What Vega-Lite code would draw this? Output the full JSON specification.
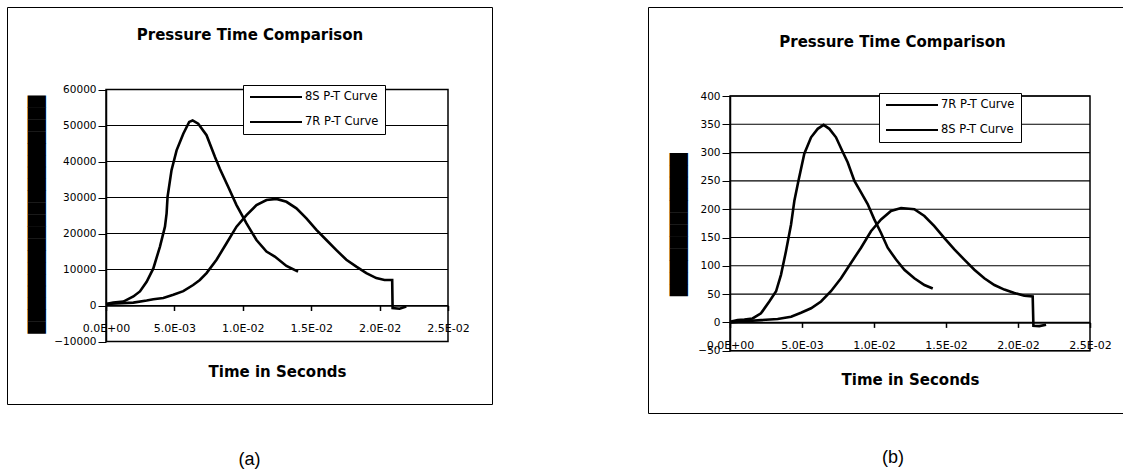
{
  "$schema": "https://vega.github.io/schema/vega-lite/v6.json",
  "padding": {"left": 6, "top": 6, "right": 5, "bottom": 5},
  "background": "white",
  "spacing": 154,
  "resolve": {"scale": {"color": "independent"}, "legend": {"color": "independent"}},
  "config": {
    "view": {"stroke": "black", "strokeWidth": 1},
    "font": "DejaVu Sans",
    "axis": {"labelFont": "DejaVu Sans", "titleFont": "DejaVu Sans", "domainColor": "black", "tickColor": "black", "labelColor": "black", "titleColor": "black", "grid": false, "minExtent": 0}
  },
  "datasets": {
    "a": [
      {"series": "8S P-T Curve", "t": 0, "p": 400},
      {"series": "8S P-T Curve", "t": 0.00053, "p": 800},
      {"series": "8S P-T Curve", "t": 0.00127, "p": 1100},
      {"series": "8S P-T Curve", "t": 0.002, "p": 2500},
      {"series": "8S P-T Curve", "t": 0.00248, "p": 3900},
      {"series": "8S P-T Curve", "t": 0.00297, "p": 6600},
      {"series": "8S P-T Curve", "t": 0.00346, "p": 10300},
      {"series": "8S P-T Curve", "t": 0.00394, "p": 16300},
      {"series": "8S P-T Curve", "t": 0.00431, "p": 21900},
      {"series": "8S P-T Curve", "t": 0.00443, "p": 25600},
      {"series": "8S P-T Curve", "t": 0.0045, "p": 30200},
      {"series": "8S P-T Curve", "t": 0.00479, "p": 37600},
      {"series": "8S P-T Curve", "t": 0.00516, "p": 43100},
      {"series": "8S P-T Curve", "t": 0.00565, "p": 47700},
      {"series": "8S P-T Curve", "t": 0.00608, "p": 51000},
      {"series": "8S P-T Curve", "t": 0.00633, "p": 51400},
      {"series": "8S P-T Curve", "t": 0.00674, "p": 50500},
      {"series": "8S P-T Curve", "t": 0.00735, "p": 47300},
      {"series": "8S P-T Curve", "t": 0.00796, "p": 41300},
      {"series": "8S P-T Curve", "t": 0.00832, "p": 38000},
      {"series": "8S P-T Curve", "t": 0.00893, "p": 33000},
      {"series": "8S P-T Curve", "t": 0.00954, "p": 27900},
      {"series": "8S P-T Curve", "t": 0.01027, "p": 22800},
      {"series": "8S P-T Curve", "t": 0.011, "p": 18200},
      {"series": "8S P-T Curve", "t": 0.01173, "p": 15000},
      {"series": "8S P-T Curve", "t": 0.01234, "p": 13600},
      {"series": "8S P-T Curve", "t": 0.01319, "p": 11000},
      {"series": "8S P-T Curve", "t": 0.01404, "p": 9400},
      {"series": "7R P-T Curve", "t": 0, "p": 400},
      {"series": "7R P-T Curve", "t": 0.002, "p": 800},
      {"series": "7R P-T Curve", "t": 0.00297, "p": 1400},
      {"series": "7R P-T Curve", "t": 0.00346, "p": 1750},
      {"series": "7R P-T Curve", "t": 0.00419, "p": 2100},
      {"series": "7R P-T Curve", "t": 0.00492, "p": 3000},
      {"series": "7R P-T Curve", "t": 0.00565, "p": 4000},
      {"series": "7R P-T Curve", "t": 0.00637, "p": 5700},
      {"series": "7R P-T Curve", "t": 0.00686, "p": 7100},
      {"series": "7R P-T Curve", "t": 0.00735, "p": 9000},
      {"series": "7R P-T Curve", "t": 0.00808, "p": 12700},
      {"series": "7R P-T Curve", "t": 0.00881, "p": 17300},
      {"series": "7R P-T Curve", "t": 0.00954, "p": 21900},
      {"series": "7R P-T Curve", "t": 0.01027, "p": 25100},
      {"series": "7R P-T Curve", "t": 0.011, "p": 27900},
      {"series": "7R P-T Curve", "t": 0.01173, "p": 29300},
      {"series": "7R P-T Curve", "t": 0.01246, "p": 29600},
      {"series": "7R P-T Curve", "t": 0.01319, "p": 28800},
      {"series": "7R P-T Curve", "t": 0.01392, "p": 27000},
      {"series": "7R P-T Curve", "t": 0.01465, "p": 24200},
      {"series": "7R P-T Curve", "t": 0.01538, "p": 21000},
      {"series": "7R P-T Curve", "t": 0.01611, "p": 18200},
      {"series": "7R P-T Curve", "t": 0.01684, "p": 15400},
      {"series": "7R P-T Curve", "t": 0.01757, "p": 12700},
      {"series": "7R P-T Curve", "t": 0.0183, "p": 10800},
      {"series": "7R P-T Curve", "t": 0.01903, "p": 9000},
      {"series": "7R P-T Curve", "t": 0.01976, "p": 7600},
      {"series": "7R P-T Curve", "t": 0.02036, "p": 7100},
      {"series": "7R P-T Curve", "t": 0.02092, "p": 7100},
      {"series": "7R P-T Curve", "t": 0.02095, "p": -700},
      {"series": "7R P-T Curve", "t": 0.02146, "p": -900},
      {"series": "7R P-T Curve", "t": 0.02195, "p": -300}
    ],
    "b": [
      {"series": "8S P-T Curve", "t": 0, "p": 1},
      {"series": "8S P-T Curve", "t": 0.00053, "p": 4},
      {"series": "8S P-T Curve", "t": 0.001, "p": 5},
      {"series": "8S P-T Curve", "t": 0.00157, "p": 7},
      {"series": "8S P-T Curve", "t": 0.00215, "p": 16},
      {"series": "8S P-T Curve", "t": 0.00273, "p": 37},
      {"series": "8S P-T Curve", "t": 0.0032, "p": 55},
      {"series": "8S P-T Curve", "t": 0.00354, "p": 84},
      {"series": "8S P-T Curve", "t": 0.00389, "p": 126},
      {"series": "8S P-T Curve", "t": 0.00424, "p": 173},
      {"series": "8S P-T Curve", "t": 0.00447, "p": 215},
      {"series": "8S P-T Curve", "t": 0.00475, "p": 250},
      {"series": "8S P-T Curve", "t": 0.00516, "p": 298},
      {"series": "8S P-T Curve", "t": 0.00563, "p": 327},
      {"series": "8S P-T Curve", "t": 0.00609, "p": 342},
      {"series": "8S P-T Curve", "t": 0.0065, "p": 349},
      {"series": "8S P-T Curve", "t": 0.0069, "p": 342},
      {"series": "8S P-T Curve", "t": 0.00736, "p": 327},
      {"series": "8S P-T Curve", "t": 0.00783, "p": 301},
      {"series": "8S P-T Curve", "t": 0.00817, "p": 283},
      {"series": "8S P-T Curve", "t": 0.00864, "p": 250},
      {"series": "8S P-T Curve", "t": 0.00898, "p": 235},
      {"series": "8S P-T Curve", "t": 0.00956, "p": 209},
      {"series": "8S P-T Curve", "t": 0.01002, "p": 182},
      {"series": "8S P-T Curve", "t": 0.01049, "p": 158},
      {"series": "8S P-T Curve", "t": 0.01095, "p": 132},
      {"series": "8S P-T Curve", "t": 0.01153, "p": 111},
      {"series": "8S P-T Curve", "t": 0.01211, "p": 93},
      {"series": "8S P-T Curve", "t": 0.0128, "p": 78},
      {"series": "8S P-T Curve", "t": 0.0135, "p": 66},
      {"series": "8S P-T Curve", "t": 0.01408, "p": 60},
      {"series": "7R P-T Curve", "t": 0, "p": 0},
      {"series": "7R P-T Curve", "t": 0.001, "p": 2},
      {"series": "7R P-T Curve", "t": 0.00215, "p": 4},
      {"series": "7R P-T Curve", "t": 0.00331, "p": 6},
      {"series": "7R P-T Curve", "t": 0.00424, "p": 10},
      {"series": "7R P-T Curve", "t": 0.00493, "p": 17},
      {"series": "7R P-T Curve", "t": 0.00563, "p": 25},
      {"series": "7R P-T Curve", "t": 0.00632, "p": 37},
      {"series": "7R P-T Curve", "t": 0.00701, "p": 55},
      {"series": "7R P-T Curve", "t": 0.00771, "p": 78},
      {"series": "7R P-T Curve", "t": 0.0084, "p": 105},
      {"series": "7R P-T Curve", "t": 0.0091, "p": 132},
      {"series": "7R P-T Curve", "t": 0.00979, "p": 161},
      {"series": "7R P-T Curve", "t": 0.01049, "p": 182},
      {"series": "7R P-T Curve", "t": 0.01118, "p": 197},
      {"series": "7R P-T Curve", "t": 0.01188, "p": 202},
      {"series": "7R P-T Curve", "t": 0.0128, "p": 200},
      {"series": "7R P-T Curve", "t": 0.0135, "p": 188},
      {"series": "7R P-T Curve", "t": 0.01419, "p": 170},
      {"series": "7R P-T Curve", "t": 0.01489, "p": 149},
      {"series": "7R P-T Curve", "t": 0.01558, "p": 129},
      {"series": "7R P-T Curve", "t": 0.01627, "p": 111},
      {"series": "7R P-T Curve", "t": 0.01697, "p": 93},
      {"series": "7R P-T Curve", "t": 0.01766, "p": 78},
      {"series": "7R P-T Curve", "t": 0.01836, "p": 66},
      {"series": "7R P-T Curve", "t": 0.01905, "p": 58},
      {"series": "7R P-T Curve", "t": 0.01975, "p": 52},
      {"series": "7R P-T Curve", "t": 0.02044, "p": 47},
      {"series": "7R P-T Curve", "t": 0.02102, "p": 46},
      {"series": "7R P-T Curve", "t": 0.02107, "p": -6},
      {"series": "7R P-T Curve", "t": 0.02148, "p": -6.5},
      {"series": "7R P-T Curve", "t": 0.02195, "p": -4}
    ],
    "gridA": [{"p": -10000}, {"p": 0}, {"p": 10000}, {"p": 20000}, {"p": 30000}, {"p": 40000}, {"p": 50000}, {"p": 60000}],
    "gridB": [{"p": -50}, {"p": 0}, {"p": 50}, {"p": 100}, {"p": 150}, {"p": 200}, {"p": 250}, {"p": 300}, {"p": 350}, {"p": 400}]
  },
  "hconcat": [
    {
      "width": 485,
      "height": 397,
      "title": {"text": "(a)", "orient": "bottom", "offset": 47, "fontSize": 18, "font": "Liberation Sans", "fontWeight": "normal", "anchor": "middle", "color": "black"},
      "resolve": {"axis": {"x": "independent", "y": "independent"}},
      "layer": [
        {
          "data": {"name": "gridA"},
          "mark": {"type": "rule", "color": "black", "strokeWidth": 1.1},
          "encoding": {
            "x": {"datum": 0, "type": "quantitative", "scale": {"domain": [0, 0.025], "range": [99, 441], "nice": false, "zero": false}, "axis": null},
            "x2": {"datum": 0.025},
            "y": {"field": "p", "type": "quantitative", "scale": {"domain": [-10000, 60000], "range": [334.5, 82.5], "nice": false, "zero": false}, "axis": null}
          }
        },
        {
          "data": {"values": [{}]},
          "mark": {"type": "rect", "fill": "transparent", "stroke": "black", "strokeWidth": 1.5},
          "encoding": {
            "x": {"datum": 0, "type": "quantitative", "axis": {"orient": "top", "domain": false, "ticks": false, "labels": false, "title": "Pressure Time Comparison", "titleX": 242.5, "titleY": 27, "titleAlign": "center", "titleBaseline": "middle", "titleFontSize": 15, "titleFontWeight": "bold", "offset": 0}},
            "x2": {"datum": 0.025},
            "y": {"datum": -10000, "type": "quantitative", "axis": null},
            "y2": {"datum": 60000}
          }
        },
        {
          "data": {"name": "a"},
          "mark": {"type": "line", "strokeWidth": 2.6},
          "encoding": {
            "x": {"field": "t", "type": "quantitative", "scale": {"domain": [0, 0.025], "range": [99, 441], "nice": false, "zero": false},
              "axis": {"orient": "bottom", "offset": -98.5, "values": [0, 0.005, 0.01, 0.015, 0.02, 0.025], "labelExpr": "replace(replace(upper(format(datum.value, '.1e')), 'E-', 'E-0'), 'E+', 'E+0')", "labelFontSize": 11, "labelFlush": false, "labelOverlap": false, "tickSize": 5, "tickWidth": 1.5, "domainWidth": 1.5, "labelPadding": 12, "title": "Time in Seconds", "titleFontSize": 15, "titleFontWeight": "bold", "titleY": 65.5, "titleBaseline": "middle"}},
            "y": {"field": "p", "type": "quantitative", "scale": {"domain": [-10000, 60000], "range": [334.5, 82.5], "nice": false, "zero": false},
              "axis": {"orient": "left", "offset": -99, "values": [-10000, 0, 10000, 20000, 30000, 40000, 50000, 60000], "format": "d", "labelFontSize": 10.5, "tickSize": 8, "tickWidth": 1, "domainWidth": 1.5, "labelPadding": 2, "title": "████████████████████", "titleFont": "DejaVu Sans", "titleFontSize": 15.48, "titleFontWeight": "normal", "titleX": -70, "titleY": 207, "titleAngle": 270, "titleAlign": "center", "titleBaseline": "middle", "titleLimit": 1000}},
            "color": {"field": "series", "type": "nominal", "scale": {"domain": ["8S P-T Curve", "7R P-T Curve"], "range": ["black", "black"]},
              "legend": {"orient": "none", "legendX": 236, "legendY": 78, "title": null, "symbolType": "M-1,0H9.4", "symbolSize": 100, "symbolStrokeWidth": 2, "symbolStrokeColor": "black", "labelFontSize": 11.5, "labelFont": "DejaVu Sans", "labelColor": "black", "strokeColor": "black", "fillColor": "white", "padding": 6, "rowPadding": 13, "labelOffset": 44}}
          }
        }
      ]
    },
    {
      "width": 490,
      "height": 406,
      "title": {"text": "(b)", "orient": "bottom", "offset": 36, "fontSize": 18, "font": "Liberation Sans", "fontWeight": "normal", "anchor": "middle", "color": "black"},
      "resolve": {"axis": {"x": "independent", "y": "independent"}},
      "layer": [
        {
          "data": {"name": "gridB"},
          "mark": {"type": "rule", "color": "black", "strokeWidth": 1.1},
          "encoding": {
            "x": {"datum": 0, "type": "quantitative", "scale": {"domain": [0, 0.025], "range": [82, 442], "nice": false, "zero": false}, "axis": null},
            "x2": {"datum": 0.025},
            "y": {"field": "p", "type": "quantitative", "scale": {"domain": [-50, 400], "range": [343.7, 89], "nice": false, "zero": false}, "axis": null}
          }
        },
        {
          "data": {"values": [{}]},
          "mark": {"type": "rect", "fill": "transparent", "stroke": "black", "strokeWidth": 1.5},
          "encoding": {
            "x": {"datum": 0, "type": "quantitative", "axis": {"orient": "top", "domain": false, "ticks": false, "labels": false, "title": "Pressure Time Comparison", "titleX": 244, "titleY": 34, "titleAlign": "center", "titleBaseline": "middle", "titleFontSize": 15, "titleFontWeight": "bold", "offset": 0}},
            "x2": {"datum": 0.025},
            "y": {"datum": -50, "type": "quantitative", "axis": null},
            "y2": {"datum": 400}
          }
        },
        {
          "data": {"name": "b"},
          "mark": {"type": "line", "strokeWidth": 2.6},
          "encoding": {
            "x": {"field": "t", "type": "quantitative", "scale": {"domain": [0, 0.025], "range": [82, 442], "nice": false, "zero": false},
              "axis": {"orient": "bottom", "offset": -90.6, "values": [0, 0.005, 0.01, 0.015, 0.02, 0.025], "labelExpr": "replace(replace(upper(format(datum.value, '.1e')), 'E-', 'E-0'), 'E+', 'E+0')", "labelFontSize": 11, "labelFlush": false, "labelOverlap": false, "tickSize": 5, "tickWidth": 1.5, "domainWidth": 1.5, "labelPadding": 12.5, "title": "Time in Seconds", "titleFontSize": 15, "titleFontWeight": "bold", "titleY": 56.6, "titleBaseline": "middle"}},
            "y": {"field": "p", "type": "quantitative", "scale": {"domain": [-50, 400], "range": [343.7, 89], "nice": false, "zero": false},
              "axis": {"orient": "left", "offset": -82, "values": [-50, 0, 50, 100, 150, 200, 250, 300, 350, 400], "format": "d", "labelFontSize": 10.5, "tickSize": 8, "tickWidth": 1, "domainWidth": 1.5, "labelPadding": 2, "title": "████████████", "titleFont": "DejaVu Sans", "titleFontSize": 15.48, "titleFontWeight": "normal", "titleX": -51.5, "titleY": 217, "titleAngle": 270, "titleAlign": "center", "titleBaseline": "middle", "titleLimit": 1000}},
            "color": {"field": "series", "type": "nominal", "scale": {"domain": ["7R P-T Curve", "8S P-T Curve"], "range": ["black", "black"]},
              "legend": {"orient": "none", "legendX": 231, "legendY": 86, "title": null, "symbolType": "M-1,0H9.4", "symbolSize": 100, "symbolStrokeWidth": 2, "symbolStrokeColor": "black", "labelFontSize": 11.5, "labelFont": "DejaVu Sans", "labelColor": "black", "strokeColor": "black", "fillColor": "white", "padding": 6, "rowPadding": 13, "labelOffset": 44}}
          }
        }
      ]
    }
  ]
}
